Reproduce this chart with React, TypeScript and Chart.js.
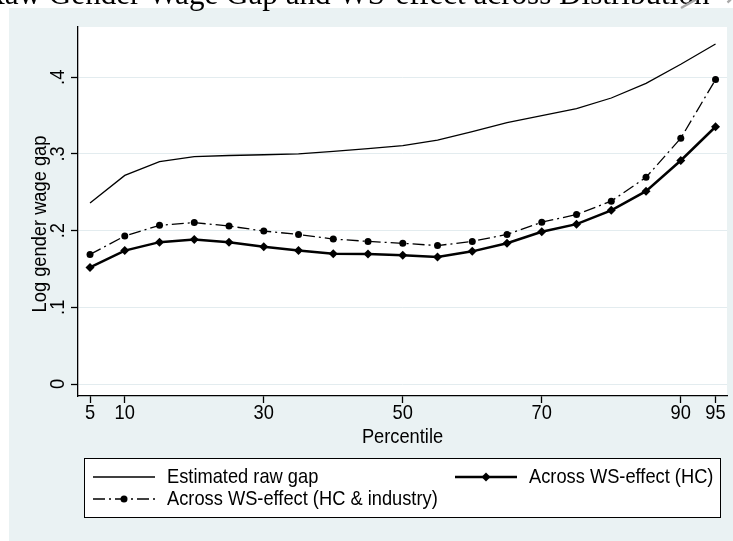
import React, { useEffect, useRef } from 'react';
import { Chart, registerables } from 'chart.js';

Chart.register(...registerables);

// ---------------- data ----------------
const percentiles = [5, 10, 15, 20, 25, 30, 35, 40, 45, 50, 55, 60, 65, 70, 75, 80, 85, 90, 95];
const rawGap = [0.236, 0.272, 0.290, 0.2965, 0.298, 0.299, 0.300, 0.3035, 0.307, 0.311, 0.318, 0.329, 0.341, 0.350, 0.359, 0.373, 0.392, 0.417, 0.4435];
const wsEffectHC = [0.152, 0.174, 0.185, 0.1885, 0.185, 0.179, 0.174, 0.170, 0.1695, 0.168, 0.1655, 0.173, 0.1835, 0.1985, 0.2085, 0.2265, 0.2515, 0.2915, 0.3355];
const wsEffectHCInd = [0.169, 0.193, 0.207, 0.2105, 0.206, 0.1995, 0.195, 0.189, 0.186, 0.1835, 0.1805, 0.186, 0.195, 0.211, 0.221, 0.2385, 0.2695, 0.3205, 0.397];

const xTickValues = [5, 10, 30, 50, 70, 90, 95];
const yTickValues = [0, 0.1, 0.2, 0.3, 0.4];
const yTickLabels = ['0', '.1', '.2', '.3', '.4'];
const seriesLabels = ['Estimated raw gap', 'Across WS-effect (HC)', 'Across WS-effect (HC & industry)'];
const xAxisTitle = 'Percentile';
const yAxisTitle = 'Log gender wage gap';
const pageTitle = 'Raw Gender Wage Gap and WS-effect across Distribution';

// ---------------- styling ----------------
const FAMILY = '"Liberation Sans", Arial, sans-serif';
const SIZE = 21;
const SX = 0.87; // horizontal condensing of the sans text (Stata export look)
const OUTER_BG = '#EAF2F3';
const GRID = '#E3ECEF';

function condenseText(ctx: any) {
  const proto: any = CanvasRenderingContext2D.prototype;
  const isOurs = () => String(ctx.font).indexOf('Liberation Sans') >= 0;
  ctx.fillText = function (text: string, x: number, y: number, maxWidth?: number) {
    if (!isOurs()) {
      return maxWidth === undefined
        ? proto.fillText.call(ctx, text, x, y)
        : proto.fillText.call(ctx, text, x, y, maxWidth);
    }
    ctx.save();
    ctx.translate(x, y);
    ctx.scale(SX, 1);
    proto.fillText.call(ctx, text, 0, 0);
    ctx.restore();
  };
  ctx.measureText = function (text: string) {
    const m = proto.measureText.call(ctx, text);
    if (!isOurs()) return m;
    return {
      width: m.width * SX,
      actualBoundingBoxAscent: m.actualBoundingBoxAscent,
      actualBoundingBoxDescent: m.actualBoundingBoxDescent,
      actualBoundingBoxLeft: m.actualBoundingBoxLeft * SX,
      actualBoundingBoxRight: m.actualBoundingBoxRight * SX,
      fontBoundingBoxAscent: m.fontBoundingBoxAscent,
      fontBoundingBoxDescent: m.fontBoundingBoxDescent,
    };
  };
}

const bgPlugin = {
  id: 'stataBackground',
  beforeDraw(chart: any) {
    const { ctx, chartArea: a, width, height } = chart;
    ctx.save();
    ctx.fillStyle = '#ffffff';
    ctx.fillRect(0, 0, width, height);
    ctx.fillStyle = OUTER_BG;
    ctx.fillRect(9, 8, width - 9, height - 8);
    ctx.fillStyle = '#ffffff';
    ctx.fillRect(a.left, a.top, a.right - a.left, a.bottom - a.top);
    // remnant of the page heading above the figure
    ctx.beginPath();
    ctx.rect(0, 0, width, 13);
    ctx.clip();
    ctx.fillStyle = '#000';
    ctx.textBaseline = 'alphabetic';
    ctx.textAlign = 'left';
    ctx.font = '28px "Liberation Serif", "Times New Roman", serif';
    const w = ctx.measureText(pageTitle).width;
    const fs = (28 * 726) / w;
    ctx.font = `${fs}px "Liberation Serif", "Times New Roman", serif`;
    ctx.fillText(pageTitle, -16, 4);
    // page artifact at top right
    ctx.strokeStyle = '#a8a8a8';
    ctx.lineWidth = 2.5;
    ctx.beginPath();
    ctx.moveTo(681, 8);
    ctx.lineTo(697, -1);
    ctx.stroke();
    ctx.beginPath();
    ctx.arc(722, -6, 10, -0.2, 1.0);
    ctx.stroke();
    ctx.restore();
  },
};

const overlayPlugin = {
  id: 'stataOverlay',
  afterDraw(chart: any) {
    const { ctx } = chart;
    const ds = chart.data.datasets;
    ctx.save();
    // y axis title
    ctx.save();
    ctx.translate(40, 224);
    ctx.rotate(-Math.PI / 2);
    ctx.fillStyle = '#000';
    ctx.font = `${SIZE}px ${FAMILY}`;
    ctx.textAlign = 'center';
    ctx.textBaseline = 'middle';
    ctx.fillText(yAxisTitle, 0, 0);
    ctx.restore();

    // legend
    ctx.fillStyle = '#ffffff';
    ctx.fillRect(84, 458, 636, 59);
    ctx.strokeStyle = '#000';
    ctx.lineWidth = 1;
    ctx.strokeRect(84.5, 458.5, 636, 59);
    const slots: [number, number, number][] = [
      [0, 93, 477],
      [1, 455, 477],
      [2, 93, 499],
    ];
    for (const [i, x, y] of slots) {
      const d = ds[i];
      ctx.beginPath();
      ctx.setLineDash(d.borderDash || []);
      ctx.lineWidth = d.borderWidth;
      ctx.strokeStyle = d.borderColor;
      ctx.moveTo(x, y);
      ctx.lineTo(x + 62, y);
      ctx.stroke();
      ctx.setLineDash([]);
      const r = d.pointRadius || 0;
      if (r > 0) {
        const cx = x + 31;
        ctx.fillStyle = d.pointBackgroundColor || '#000';
        ctx.beginPath();
        if (d.pointStyle === 'rectRot') {
          ctx.moveTo(cx - r, y);
          ctx.lineTo(cx, y - r);
          ctx.lineTo(cx + r, y);
          ctx.lineTo(cx, y + r);
          ctx.closePath();
        } else {
          ctx.arc(cx, y, r, 0, Math.PI * 2);
        }
        ctx.fill();
      }
      ctx.fillStyle = '#000';
      ctx.font = `${SIZE}px ${FAMILY}`;
      ctx.textBaseline = 'middle';
      ctx.textAlign = 'left';
      ctx.fillText(d.label, x + 74, y);
    }
    ctx.restore();
  },
};

export default function App() {
  const ref = useRef<HTMLCanvasElement>(null);

  useEffect(() => {
    const canvas = ref.current;
    if (!canvas) return;
    const ctx = canvas.getContext('2d');
    if (ctx) condenseText(ctx);
    const tickFont = { family: FAMILY, size: SIZE, lineHeight: 1 };
    const titleFont = { family: FAMILY, size: SIZE, lineHeight: 1.2 };
    const chart = new Chart(canvas, {
      type: 'line',
      data: {
        datasets: [
          {
            label: seriesLabels[0],
            data: percentiles.map((p, i) => ({ x: p, y: rawGap[i] })),
            borderColor: '#000',
            backgroundColor: '#000',
            borderWidth: 1.3,
            pointRadius: 0,
            tension: 0,
            fill: false,
          },
          {
            label: seriesLabels[1],
            data: percentiles.map((p, i) => ({ x: p, y: wsEffectHC[i] })),
            borderColor: '#000',
            backgroundColor: '#000',
            borderWidth: 2.5,
            pointStyle: 'rectRot',
            pointRadius: 4.5,
            pointBorderWidth: 0,
            pointBackgroundColor: '#000',
            pointBorderColor: '#000',
            tension: 0,
            fill: false,
          },
          {
            label: seriesLabels[2],
            data: percentiles.map((p, i) => ({ x: p, y: wsEffectHCInd[i] })),
            borderColor: '#000',
            backgroundColor: '#000',
            borderWidth: 1.3,
            borderDash: [12, 4, 2, 4],
            pointStyle: 'circle',
            pointRadius: 3.5,
            pointBorderWidth: 0,
            pointBackgroundColor: '#000',
            pointBorderColor: '#000',
            tension: 0,
            fill: false,
          },
        ],
      } as any,
      options: {
        animation: false,
        responsive: false,
        devicePixelRatio: 1,
        events: [],
        layout: { padding: { top: 27, right: 6, bottom: 0, left: 0 } },
        plugins: {
          legend: { display: false },
          tooltip: { enabled: false },
          title: { display: false },
        },
        scales: {
          x: {
            type: 'linear',
            min: 3.27,
            max: 96.65,
            afterBuildTicks: (s: any) => {
              s.ticks = xTickValues.map((v) => ({ value: v }));
            },
            afterFit: (s: any) => {
              s.height = 145;
            },
            ticks: {
              autoSkip: false,
              minRotation: 0,
              maxRotation: 0,
              padding: 0,
              color: '#000',
              font: tickFont,
              callback: (v: any) => String(v),
            },
            grid: {
              display: true,
              drawOnChartArea: false,
              drawTicks: true,
              tickLength: 7,
              tickColor: '#000',
              tickWidth: 1.3,
            },
            border: { display: true, color: '#000', width: 1.3 },
            title: {
              display: true,
              text: xAxisTitle,
              color: '#000',
              font: titleFont,
              padding: { top: 0, bottom: 91 },
            },
          },
          y: {
            type: 'linear',
            min: -0.01565,
            max: 0.4656,
            afterBuildTicks: (s: any) => {
              s.ticks = yTickValues.map((v) => ({ value: v }));
            },
            afterFit: (s: any) => {
              s.width = 78;
            },
            ticks: {
              autoSkip: false,
              minRotation: 90,
              maxRotation: 90,
              crossAlign: 'center',
              padding: 5,
              color: '#000',
              font: tickFont,
              callback: (_v: any, i: number) => yTickLabels[i],
            },
            grid: {
              display: true,
              drawOnChartArea: true,
              color: GRID,
              lineWidth: 1,
              drawTicks: true,
              tickLength: 7,
              tickColor: '#000',
              tickWidth: 1.3,
            },
            border: { display: true, color: '#000', width: 1.3 },
            title: { display: false },
          },
        },
      } as any,
      plugins: [bgPlugin, overlayPlugin],
    });
    return () => chart.destroy();
  }, []);

  return (
    <div style={{ position: 'fixed', left: 0, top: 0, width: 733, height: 541, background: '#fff' }}>
      <canvas ref={ref} width={733} height={541} style={{ display: 'block', width: 733, height: 541 }} />
    </div>
  );
}
